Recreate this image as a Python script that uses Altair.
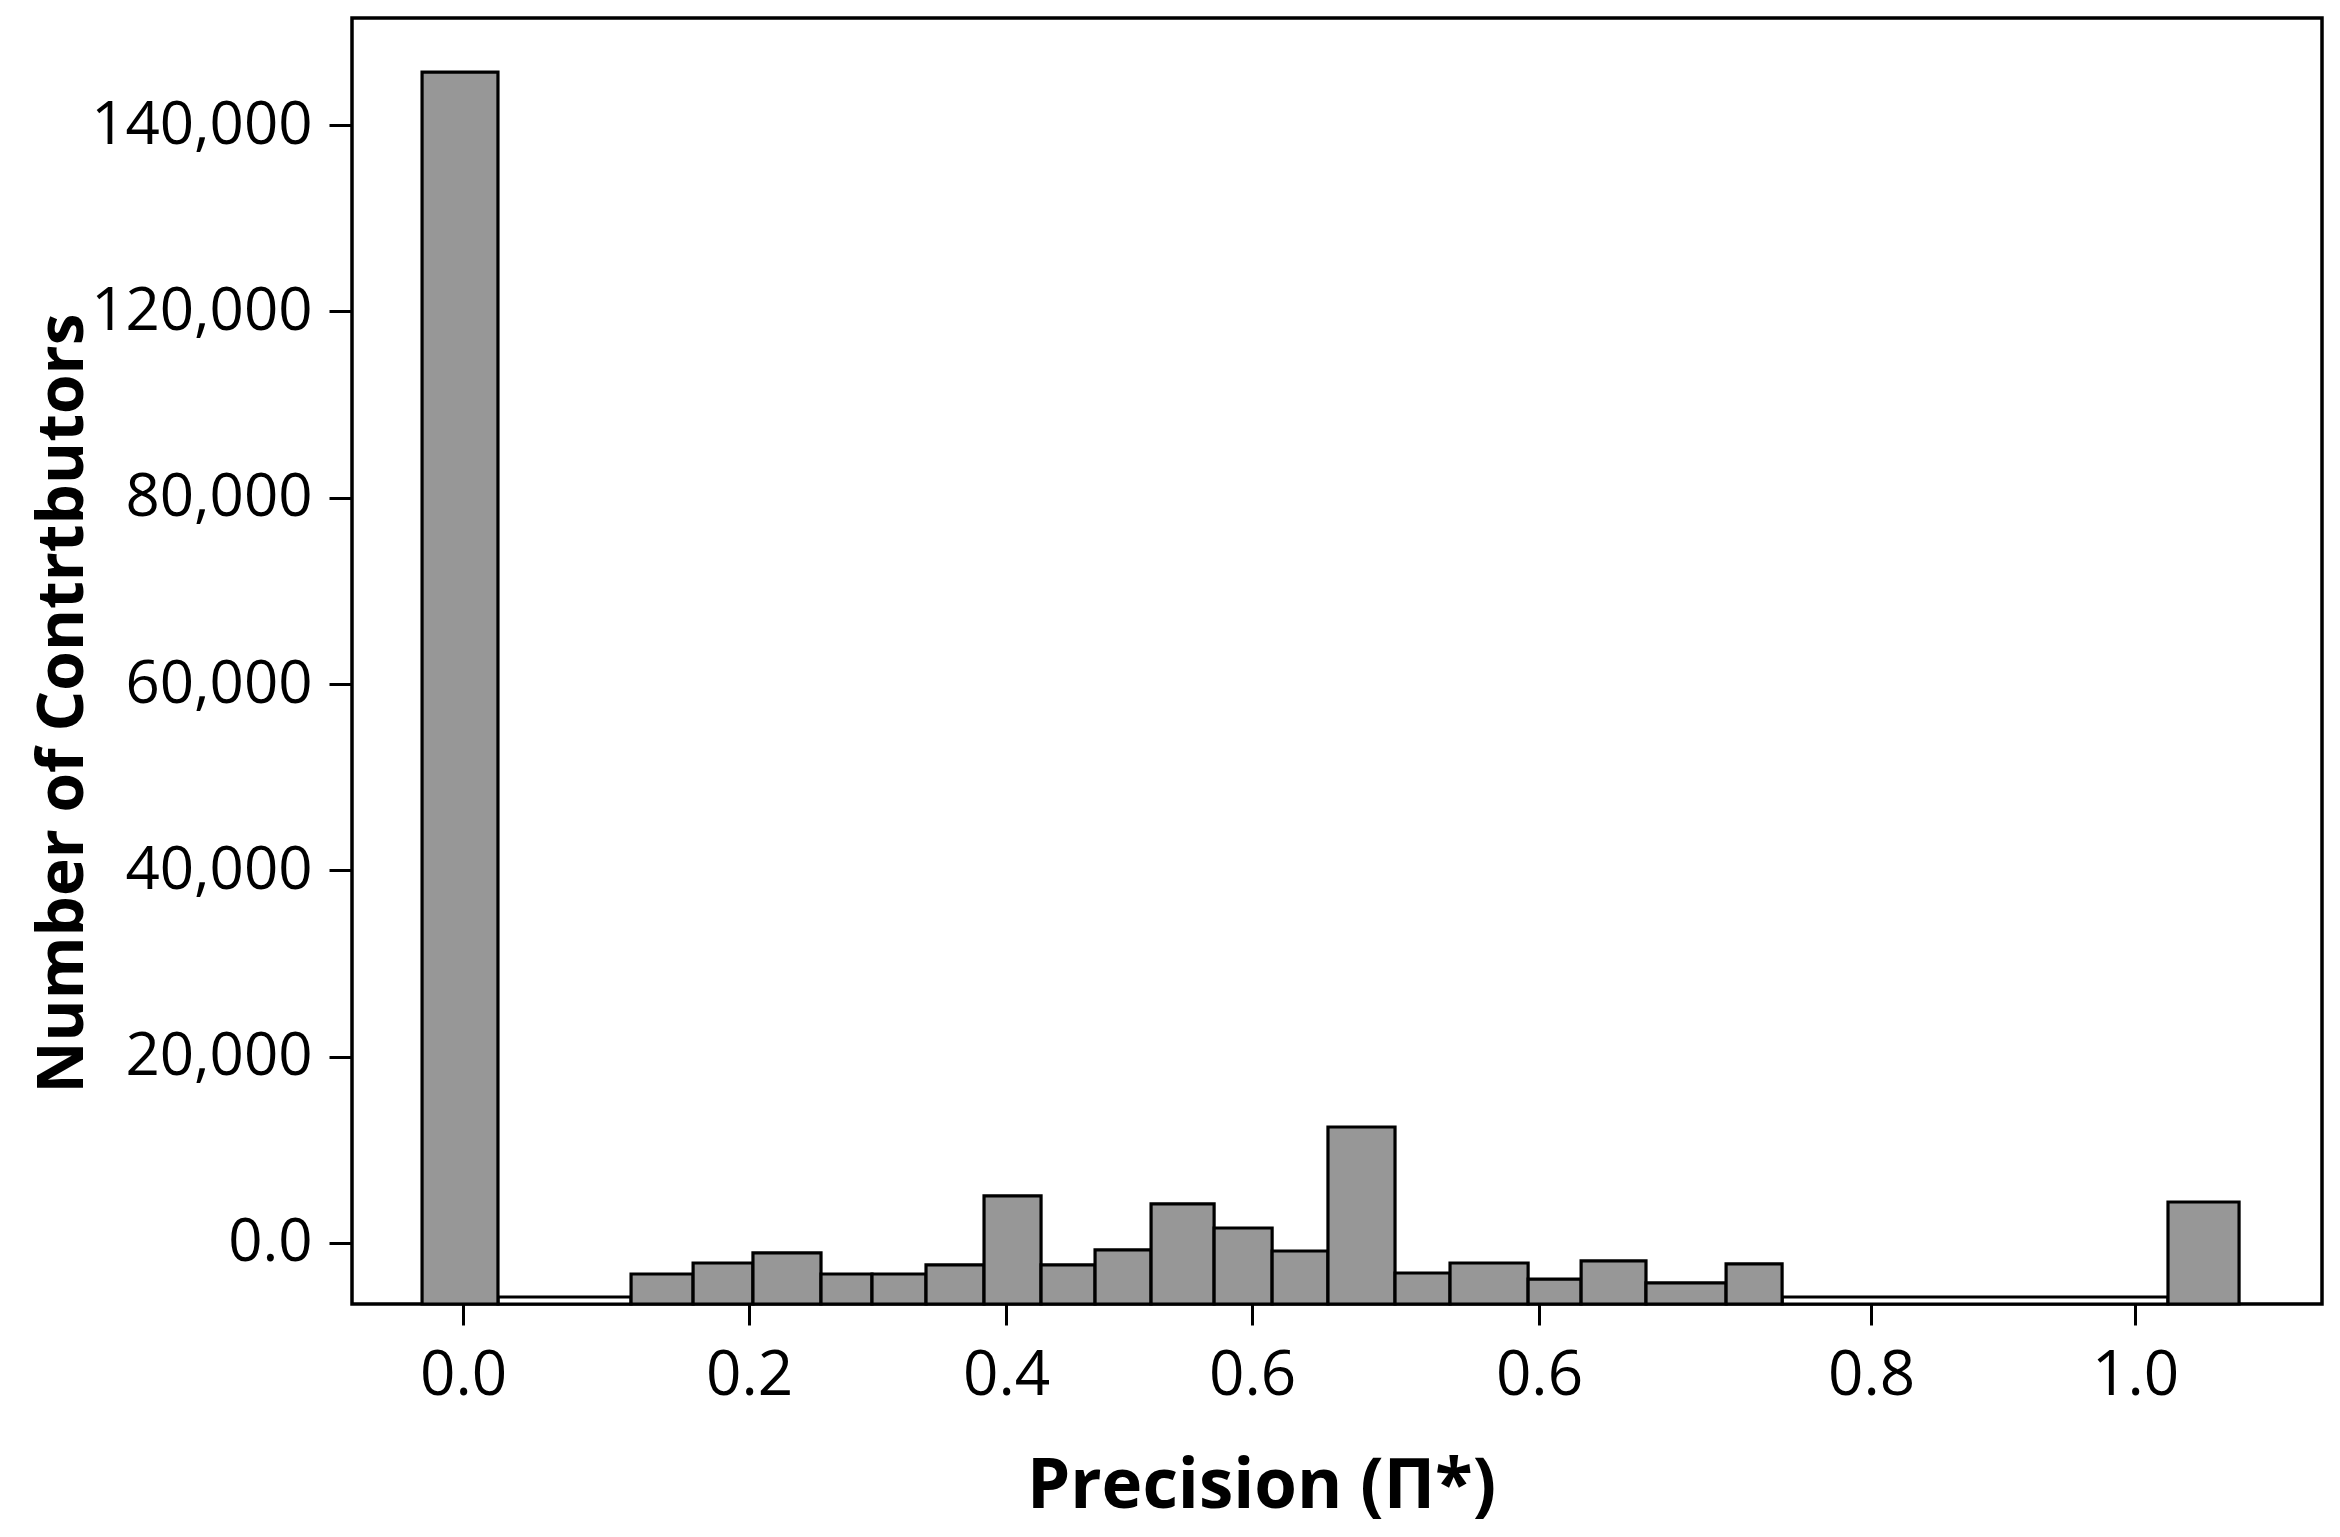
import altair as alt
import pandas as pd

# ---- data (positions in axis units) ----
BIN_START = [-0.0245, 0.1005, 0.1376, 0.1734, 0.2141, 0.2446, 0.2769, 0.3116, 0.3457, 0.3780,
             0.4115, 0.4492, 0.4839, 0.5173, 0.5574, 0.5903, 0.6370, 0.6687, 0.7075, 0.7554, 1.0197]
BIN_END = [0.0209, 0.1376, 0.1734, 0.2141, 0.2446, 0.2769, 0.3116, 0.3457, 0.3780, 0.4115,
           0.4492, 0.4839, 0.5173, 0.5574, 0.5903, 0.6370, 0.6687, 0.7075, 0.7554, 0.7889, 1.0622]
COUNTS = [125700, -3330, -2150, -1070, -3330, -3330, -2360, 5050, -2360, -750,
          4190, 1610, -860, 12450, -3220, -2150, -3870, -1930, -4290, -2250, 4400]

# empty stretches drawn as flat outlines
GAP_START = [0.0209, 0.7889]
GAP_END = [0.1005, 1.0197]
GAP_LEVEL = [-5800, -5800]

X_TICK_POS = [0.0, 0.1711, 0.3248, 0.4719, 0.6435, 0.8421, 1.0]
X_TICK_LABELS = ["0.0", "0.2", "0.4", "0.6", "0.6", "0.8", "1.0"]
Y_TICK_POS = [0, 20000, 40000, 60000, 80000, 100000, 120000]
Y_TICK_LABELS = ["0.0", "20,000", "40,000", "60,000", "80,000", "120,000", "140,000"]

X_DOMAIN = [-0.0664, 1.1118]
Y_DOMAIN = [-6550, 131500]

bars = pd.DataFrame({"start": BIN_START, "end": BIN_END, "count": COUNTS})
bars["base"] = Y_DOMAIN[0]
gaps = pd.DataFrame({"start": GAP_START, "end": GAP_END, "count": GAP_LEVEL})
gaps["base"] = Y_DOMAIN[0]


def label_expr(vals, labels, tol):
    expr = "''"
    for v, l in reversed(list(zip(vals, labels))):
        expr = f"(abs(datum.value - ({v})) < {tol}) ? '{l}' : {expr}"
    return expr


FONT = "Open Sans"

x_axis = alt.Axis(
    values=X_TICK_POS,
    labelExpr=label_expr(X_TICK_POS, X_TICK_LABELS, 0.001),
    title="Precision (Π*)",
    titleFont=FONT, titleFontSize=69, titleFontWeight="bold", titleColor="black",
    titleX=909, titleY=203, titleBaseline="alphabetic", titleAnchor="start", titleAlign="center",
    labelFont=FONT, labelFontSize=62, labelColor="black", labelPadding=20, labelLimit=0,
    tickSize=21, tickWidth=3, tickColor="black",
    domain=False, grid=False, labelFlush=False, labelOverlap=False,
)
y_axis = alt.Axis(
    values=Y_TICK_POS,
    labelExpr=label_expr(Y_TICK_POS, Y_TICK_LABELS, 1),
    title="Number of Contrtbutors",
    titleFont=FONT, titleFontSize=64, titleFontWeight="bold", titleColor="black",
    titleX=-270, titleY=685, titleAngle=270, titleBaseline="alphabetic", titleAlign="center",
    labelFont=FONT, labelFontSize=60, labelColor="black", labelPadding=17, labelLimit=0,
    tickSize=23, tickWidth=3, tickColor="black",
    domain=False, grid=False, labelFlush=False, labelOverlap=False,
)

xs = alt.Scale(domain=X_DOMAIN, nice=False, zero=False)
ys = alt.Scale(domain=Y_DOMAIN, nice=False, zero=False)

bar_layer = alt.Chart(bars).mark_bar(fill="#979797", stroke="black", strokeWidth=3.2).encode(
    x=alt.X("start:Q", scale=xs, axis=x_axis),
    x2="end:Q",
    y=alt.Y("count:Q", scale=ys, axis=y_axis),
    y2="base:Q",
)
gap_layer = alt.Chart(gaps).mark_bar(fill="white", stroke="black", strokeWidth=3.2).encode(
    x=alt.X("start:Q", scale=xs),
    x2="end:Q",
    y=alt.Y("count:Q", scale=ys),
    y2="base:Q",
)

chart = alt.layer(gap_layer, bar_layer).properties(
    width=1970, height=1286,
    padding={"left": 344, "top": 10, "right": 10, "bottom": 225},
    autosize=alt.AutoSizeParams(type="none"),
    background="white",
).configure_view(stroke="black", strokeWidth=3.5)

chart.save("out.html", embed_options={"renderer": "svg", "actions": False})
